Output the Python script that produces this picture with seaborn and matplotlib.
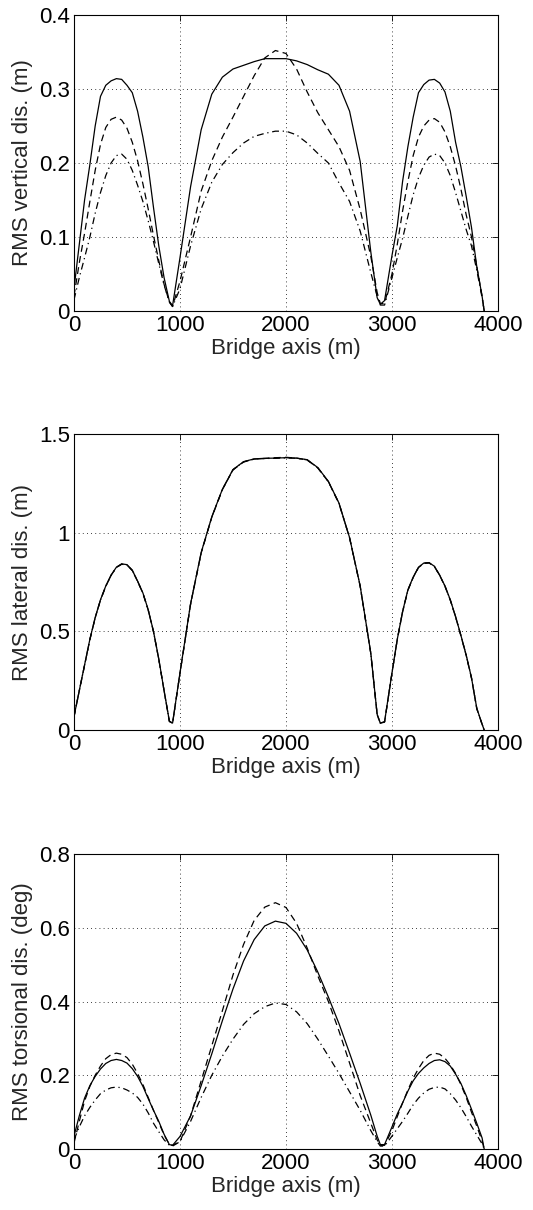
import numpy as np
import pandas as pd
import matplotlib
matplotlib.use("Agg")
import matplotlib.pyplot as plt
from matplotlib.ticker import FormatStrFormatter, MultipleLocator
import seaborn as sns

# Stations along the bridge axis (m)
x_m = [0, 50, 100, 150, 200, 250, 300, 350, 400, 450, 500, 550, 600, 650, 700, 750, 800, 850, 900, 930,
       1000, 1100, 1200, 1300, 1400, 1500, 1600, 1700, 1800, 1900, 2000, 2100, 2200, 2300, 2400, 2500,
       2600, 2700, 2800, 2860, 2890,
       2930, 3000, 3050, 3100, 3150, 3200, 3250, 3300, 3350, 3400, 3450, 3500, 3550, 3600, 3650, 3700,
       3750, 3800, 3850, 3870]

# RMS vertical displacement (m)
vert_solid = [0.030, 0.090, 0.150, 0.198, 0.250, 0.290, 0.305, 0.311, 0.314, 0.313, 0.305, 0.295, 0.270, 0.235,
              0.195, 0.140, 0.088, 0.045, 0.013, 0.007,
              0.072, 0.168, 0.245, 0.293, 0.316, 0.327, 0.332, 0.337, 0.341, 0.341, 0.341, 0.338, 0.333, 0.326,
              0.320, 0.305, 0.270, 0.202, 0.080, 0.018, 0.009,
              0.014, 0.075, 0.115, 0.175, 0.222, 0.262, 0.295, 0.306, 0.312, 0.313, 0.308, 0.296, 0.270, 0.228,
              0.195, 0.155, 0.113, 0.060, 0.020, 0.000]
vert_dash = [0.020, 0.065, 0.105, 0.148, 0.190, 0.225, 0.248, 0.259, 0.262, 0.258, 0.247, 0.228, 0.203, 0.172,
             0.138, 0.102, 0.068, 0.036, 0.012, 0.006,
             0.040, 0.100, 0.162, 0.203, 0.235, 0.262, 0.290, 0.318, 0.342, 0.352, 0.348, 0.327, 0.296, 0.268,
             0.245, 0.222, 0.190, 0.137, 0.074, 0.025, 0.010,
             0.010, 0.050, 0.090, 0.135, 0.175, 0.210, 0.235, 0.250, 0.258, 0.260, 0.255, 0.242, 0.222, 0.196,
             0.165, 0.130, 0.100, 0.060, 0.020, 0.000]
vert_dashdot = [0.015, 0.045, 0.072, 0.100, 0.132, 0.160, 0.183, 0.200, 0.210, 0.212, 0.205, 0.190, 0.170, 0.148,
                0.122, 0.094, 0.064, 0.035, 0.012, 0.006,
                0.030, 0.088, 0.138, 0.174, 0.198, 0.214, 0.227, 0.236, 0.240, 0.243, 0.243, 0.238, 0.227, 0.213,
                0.200, 0.173, 0.148, 0.108, 0.052, 0.020, 0.008,
                0.008, 0.045, 0.072, 0.098, 0.128, 0.157, 0.180, 0.197, 0.208, 0.212, 0.210, 0.200, 0.183, 0.160,
                0.135, 0.110, 0.088, 0.055, 0.018, 0.000]

# RMS lateral displacement (m)
lat_solid = [0.068, 0.200, 0.330, 0.460, 0.570, 0.660, 0.730, 0.785, 0.825, 0.842, 0.838, 0.810, 0.755, 0.695,
             0.610, 0.500, 0.360, 0.200, 0.045, 0.035,
             0.290, 0.640, 0.900, 1.080, 1.220, 1.320, 1.360, 1.374, 1.377, 1.378, 1.380, 1.378, 1.370, 1.330,
             1.260, 1.150, 0.975, 0.730, 0.390, 0.080, 0.035,
             0.042, 0.290, 0.460, 0.600, 0.710, 0.775, 0.825, 0.846, 0.848, 0.830, 0.785, 0.730, 0.660, 0.575,
             0.480, 0.380, 0.265, 0.110, 0.030, 0.000]
lat_dash = [0.066, 0.198, 0.328, 0.458, 0.568, 0.658, 0.728, 0.784, 0.824, 0.840, 0.836, 0.808, 0.753, 0.693,
            0.608, 0.498, 0.358, 0.198, 0.043, 0.034,
            0.287, 0.637, 0.897, 1.078, 1.218, 1.318, 1.358, 1.373, 1.376, 1.380, 1.382, 1.378, 1.368, 1.328,
            1.258, 1.148, 0.973, 0.728, 0.388, 0.078, 0.034,
            0.040, 0.288, 0.458, 0.598, 0.708, 0.773, 0.823, 0.845, 0.847, 0.828, 0.783, 0.728, 0.658, 0.573,
            0.478, 0.378, 0.263, 0.108, 0.029, 0.000]
lat_dashdot = [0.067, 0.199, 0.329, 0.459, 0.569, 0.659, 0.729, 0.784, 0.824, 0.841, 0.837, 0.809, 0.754, 0.694,
               0.609, 0.499, 0.359, 0.199, 0.044, 0.034,
               0.288, 0.638, 0.898, 1.079, 1.219, 1.319, 1.359, 1.373, 1.376, 1.377, 1.379, 1.377, 1.369, 1.329,
               1.259, 1.149, 0.974, 0.729, 0.389, 0.079, 0.034,
               0.041, 0.289, 0.459, 0.599, 0.709, 0.774, 0.824, 0.845, 0.847, 0.829, 0.784, 0.729, 0.659, 0.574,
               0.479, 0.379, 0.264, 0.109, 0.029, 0.000]

# RMS torsional displacement (deg)
tor_solid = [0.035, 0.090, 0.138, 0.172, 0.197, 0.217, 0.232, 0.240, 0.243, 0.240, 0.233, 0.218, 0.197, 0.170,
             0.137, 0.105, 0.075, 0.040, 0.012, 0.010,
             0.034, 0.090, 0.172, 0.258, 0.348, 0.434, 0.510, 0.568, 0.605, 0.618, 0.612, 0.585, 0.540, 0.480,
             0.412, 0.340, 0.260, 0.178, 0.092, 0.035, 0.012,
             0.012, 0.060, 0.095, 0.125, 0.157, 0.185, 0.205, 0.220, 0.232, 0.240, 0.242, 0.237, 0.225, 0.203,
             0.178, 0.145, 0.108, 0.070, 0.030, 0.000]
tor_dash = [0.016, 0.075, 0.130, 0.170, 0.200, 0.225, 0.245, 0.256, 0.260, 0.257, 0.248, 0.230, 0.205, 0.175,
            0.140, 0.105, 0.072, 0.038, 0.012, 0.010,
            0.020, 0.090, 0.185, 0.280, 0.375, 0.472, 0.555, 0.620, 0.656, 0.668, 0.655, 0.612, 0.545, 0.470,
            0.400, 0.320, 0.233, 0.145, 0.070, 0.025, 0.010,
            0.010, 0.050, 0.088, 0.125, 0.160, 0.192, 0.218, 0.240, 0.254, 0.260, 0.257, 0.246, 0.228, 0.205,
            0.175, 0.140, 0.100, 0.062, 0.022, 0.000]
tor_dashdot = [0.025, 0.060, 0.090, 0.113, 0.133, 0.150, 0.160, 0.166, 0.168, 0.166, 0.160, 0.152, 0.140, 0.122,
               0.098, 0.070, 0.047, 0.025, 0.010, 0.008,
               0.020, 0.075, 0.140, 0.200, 0.252, 0.298, 0.338, 0.367, 0.386, 0.396, 0.392, 0.372, 0.340, 0.298,
               0.252, 0.205, 0.155, 0.105, 0.050, 0.020, 0.008,
               0.008, 0.035, 0.055, 0.075, 0.097, 0.120, 0.138, 0.152, 0.162, 0.167, 0.168, 0.163, 0.150, 0.133,
               0.112, 0.088, 0.062, 0.038, 0.014, 0.000]

x_ticks = [0, 1000, 2000, 3000, 4000]
x_label = "Bridge axis (m)"

panels = [
    ("RMS vertical dis. (m)", (vert_solid, vert_dash, vert_dashdot), 0.4, 0.1),
    ("RMS lateral dis. (m)", (lat_solid, lat_dash, lat_dashdot), 1.5, 0.5),
    ("RMS torsional dis. (deg)", (tor_solid, tor_dash, tor_dashdot), 0.8, 0.2),
]

sns.set_theme(style="white")
plt.rcParams["font.family"] = ["Liberation Sans", "DejaVu Sans"]
plt.rcParams["font.size"] = 16

line_styles = ["-", (0, (5.5, 3.5)), (0, (5.5, 3.0, 1.0, 3.0))]

fig = plt.figure(figsize=(5.33, 12.10), dpi=100)
fig.patch.set_facecolor("white")

ax_boxes = [
    [0.1388, 0.7430, 0.7955, 0.2446],
    [0.1388, 0.3967, 0.7955, 0.2446],
    [0.1388, 0.0504, 0.7955, 0.2438],
]

for box, (ylab, series, ymax, ystep) in zip(ax_boxes, panels):
    ax = fig.add_axes(box)
    for vals, ls in zip(series, line_styles):
        df = pd.DataFrame({"x": x_m, "y": vals})
        sns.lineplot(data=df, x="x", y="y", ax=ax, color="black", linewidth=0.9,
                     linestyle=ls, estimator=None, sort=False)
    ax.set_xlim(0, 4000)
    ax.set_ylim(0, ymax)
    ax.set_xticks(x_ticks)
    ax.yaxis.set_major_locator(MultipleLocator(ystep))
    ax.yaxis.set_major_formatter(FormatStrFormatter("%g"))
    ax.grid(True, color="black", linestyle=(0, (1, 4)), linewidth=0.6)
    ax.tick_params(direction="in", length=4, width=0.6, top=True, right=True,
                   labelsize=16, pad=3, colors="black")
    for sp in ax.spines.values():
        sp.set_color("black")
        sp.set_linewidth(0.8)
    ax.set_xlabel(x_label, fontsize=16, labelpad=1)
    ax.set_ylabel(ylab, fontsize=16, labelpad=4)

fig.savefig("out.png", dpi=100, facecolor="white")
